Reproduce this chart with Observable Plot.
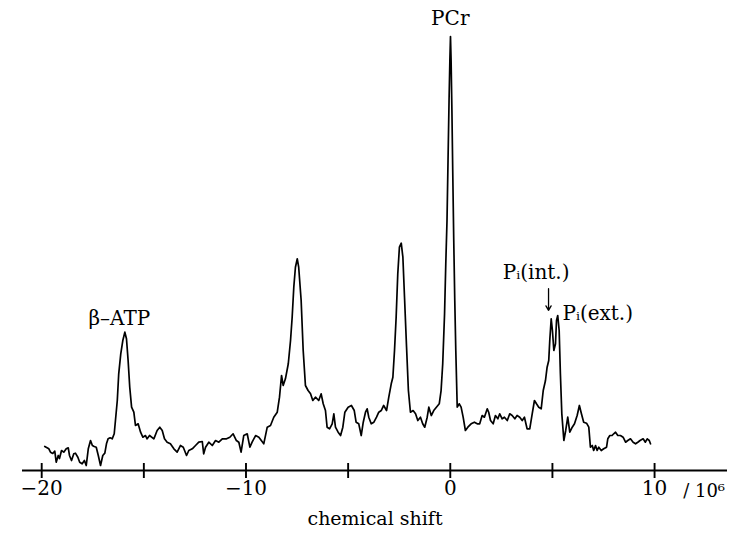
<!DOCTYPE html>
<html>
<head>
<meta charset="utf-8">
<script src="https://cdn.jsdelivr.net/npm/d3@7"></script>
<script src="https://cdn.jsdelivr.net/npm/@observablehq/plot@0.6"></script>
<style>
  html, body { margin: 0; padding: 0; background: #fff; }
</style>
</head>
<body>
<div id="chart"></div>
<script>
// chemical shift (ppm) and signal intensity
const shift = [-19.85,-19.65,-19.57,-19.46,-19.36,-19.29,-19.19,-19.13,-19.03,-18.92,-18.80,-18.70,-18.64,-18.54,-18.43,-18.35,-18.23,-18.14,-18.02,-17.91,-17.82,-17.72,-17.61,-17.52,-17.43,-17.33,-17.23,-17.12,-17.01,-16.91,-16.83,-16.75,-16.65,-16.55,-16.45,-16.39,-16.30,-16.23,-16.13,-16.03,-15.93,-15.85,-15.77,-15.69,-15.60,-15.49,-15.41,-15.28,-15.16,-15.05,-14.92,-14.84,-14.72,-14.51,-14.35,-14.22,-14.10,-13.99,-13.86,-13.70,-13.53,-13.37,-13.21,-13.07,-12.91,-12.80,-12.63,-12.47,-12.31,-12.14,-12.07,-11.98,-11.82,-11.65,-11.49,-11.33,-11.16,-10.95,-10.79,-10.63,-10.47,-10.35,-10.24,-10.11,-9.94,-9.81,-9.70,-9.53,-9.37,-9.13,-8.96,-8.80,-8.64,-8.47,-8.36,-8.26,-8.18,-8.07,-7.93,-7.82,-7.74,-7.66,-7.58,-7.49,-7.42,-7.30,-7.20,-7.09,-6.96,-6.84,-6.73,-6.60,-6.44,-6.32,-6.22,-6.11,-6.03,-5.91,-5.78,-5.70,-5.62,-5.49,-5.37,-5.26,-5.16,-5.00,-4.84,-4.70,-4.61,-4.48,-4.36,-4.26,-4.15,-4.07,-3.99,-3.87,-3.74,-3.61,-3.50,-3.38,-3.26,-3.12,-3.01,-2.89,-2.81,-2.73,-2.65,-2.57,-2.49,-2.40,-2.32,-2.24,-2.14,-2.05,-1.95,-1.82,-1.70,-1.59,-1.46,-1.35,-1.25,-1.13,-1.05,-0.93,-0.81,-0.68,-0.54,-0.45,-0.37,-0.28,-0.22,-0.16,-0.11,-0.06,-0.02,0.01,0.04,0.08,0.12,0.17,0.22,0.27,0.34,0.44,0.53,0.63,0.74,0.86,1.02,1.18,1.32,1.44,1.56,1.67,1.81,1.88,1.97,2.10,2.21,2.33,2.42,2.54,2.65,2.79,2.91,3.03,3.16,3.27,3.40,3.52,3.63,3.76,3.89,4.01,4.12,4.22,4.33,4.45,4.55,4.66,4.74,4.82,4.87,4.94,5.00,5.07,5.15,5.20,5.26,5.33,5.39,5.46,5.56,5.65,5.75,5.85,5.97,6.08,6.21,6.32,6.42,6.53,6.67,6.78,6.86,6.95,7.02,7.11,7.19,7.27,7.39,7.51,7.65,7.71,7.81,7.92,8.00,8.09,8.20,8.33,8.46,8.58,8.69,8.82,8.95,9.07,9.18,9.29,9.44,9.55,9.64,9.74,9.80];
const intensity = [5.53,5.0,4.22,3.92,4.45,1.91,3.46,2.76,4.61,4.22,5.0,5.23,3.46,2.30,3.85,3.99,3.06,1.91,1.54,2.30,1.15,5.0,6.91,5.76,5.53,5.37,3.46,1.15,3.46,3.99,6.15,7.30,7.53,7.30,8.46,11.52,16.13,22.28,26.89,29.95,31.87,30.35,25.35,19.19,14.59,13.43,10.37,10.76,8.82,7.67,8.06,7.30,8.06,7.30,9.22,9.98,9.22,7.30,6.52,6.15,5.0,4.22,5.76,5.37,3.46,4.61,5.0,5.76,6.52,6.68,3.85,5.37,6.52,5.76,6.91,6.52,7.30,7.30,7.67,8.46,6.91,6.52,4.22,8.06,8.46,5.37,6.52,8.06,7.67,6.15,9.98,10.37,12.28,13.43,16.89,21.89,19.59,21.13,24.59,29.95,35.32,42.24,46.84,48.78,46.84,39.17,27.65,19.59,18.43,17.67,16.13,16.89,16.13,17.67,15.37,13.82,9.98,9.61,10.76,13.06,9.98,8.82,8.06,9.98,13.43,14.59,14.98,13.82,11.13,10.76,8.06,11.13,13.43,14.22,12.28,10.76,11.13,12.28,13.43,13.82,14.98,13.82,16.89,19.98,21.50,27.65,35.32,45.32,51.45,52.37,49.15,39.93,28.41,18.43,13.43,13.82,13.06,11.52,12.28,10.76,9.98,12.28,14.59,12.67,13.82,14.59,15.37,18.43,24.59,36.11,47.63,57.60,71.43,85.25,94.47,100,94.47,82.95,69.12,52.99,39.17,27.65,14.59,15.37,14.59,12.28,9.22,9.98,10.76,11.13,10.76,10.76,12.67,12.28,14.22,13.43,11.52,10.76,12.67,11.91,13.06,11.91,12.28,11.52,13.06,12.67,11.91,12.67,12.28,11.52,12.28,9.61,9.61,13.06,16.13,15.37,14.59,14.22,18.43,20.74,23.80,25.35,29.95,34.95,32.26,27.65,29.19,34.56,35.71,32.26,22.28,13.06,6.91,9.22,12.28,8.82,9.98,10.76,12.67,14.98,13.06,11.13,10.90,9.98,5.37,5.76,4.61,5.76,4.61,5.37,4.61,5.0,5.37,7.30,8.06,8.06,8.46,8.82,8.06,8.06,7.67,6.52,6.91,7.30,6.52,6.15,6.52,6.91,7.30,6.52,7.30,6.91,6.15];

// axis ticks
const tickValues = [-20, -15, -10, -5, 0, 5, 10];
const tickLabels = [-20, -10, 0, 10];

// peak annotations
const peakText = ["PCr", "β–ATP", "Pᵢ(int.)"];
const peakX = [0, -16.2, 4.2];
const peakY = [104.1, 35.0, 45.6];
const extText = ["Pᵢ(ext.)"];
const extX = [5.49];
const extY = [36.2];
const arrowX = [4.81];
const arrowY1 = [41.9];
const arrowY2 = [36.9];
const unitText = ["/ 10⁶"];
const unitX = [13.45];

const spectrum = shift.map((s, i) => ({shift: s, intensity: intensity[i]}));
const font = "'DejaVu Serif', 'Liberation Serif', serif";

const chart = Plot.plot({
  width: 730,
  height: 536,
  marginTop: 36,
  marginBottom: 66,
  marginLeft: 22,
  marginRight: 3,
  style: {fontFamily: font, fontSize: "20px", background: "#fff", color: "#000"},
  x: {domain: [-20.94, 13.57]},
  y: {domain: [0, 100], axis: null},
  marks: [
    Plot.ruleY([0], {stroke: "#000", strokeWidth: 1.9}),
    Plot.ruleX(tickValues, {x: d => d, y1: 0, y2: 0, insetTop: -7, insetBottom: -8, stroke: "#000", strokeWidth: 1.9}),
    Plot.axisX({ticks: tickLabels, tickSize: 0, tickPadding: 10, fontSize: 20, label: null}),
    Plot.text(["chemical shift"], {frameAnchor: "bottom", dy: 54, fontSize: 19}),
    Plot.text(unitText, {x: unitX, y: [0], textAnchor: "end", dy: 21, fontSize: 18}),
    Plot.line(spectrum, {x: "shift", y: "intensity", stroke: "#000", strokeWidth: 1.7, strokeLinejoin: "round"}),
    Plot.text(peakText, {x: (d, i) => peakX[i], y: (d, i) => peakY[i], fontSize: 20}),
    Plot.text(extText, {x: extX, y: extY, textAnchor: "start", fontSize: 20}),
    Plot.arrow(arrowX, {x1: arrowX, y1: arrowY1, x2: arrowX, y2: arrowY2, stroke: "#000", strokeWidth: 1.3, headLength: 6})
  ]
});
document.getElementById("chart").appendChild(chart);
</script>
</body>
</html>
